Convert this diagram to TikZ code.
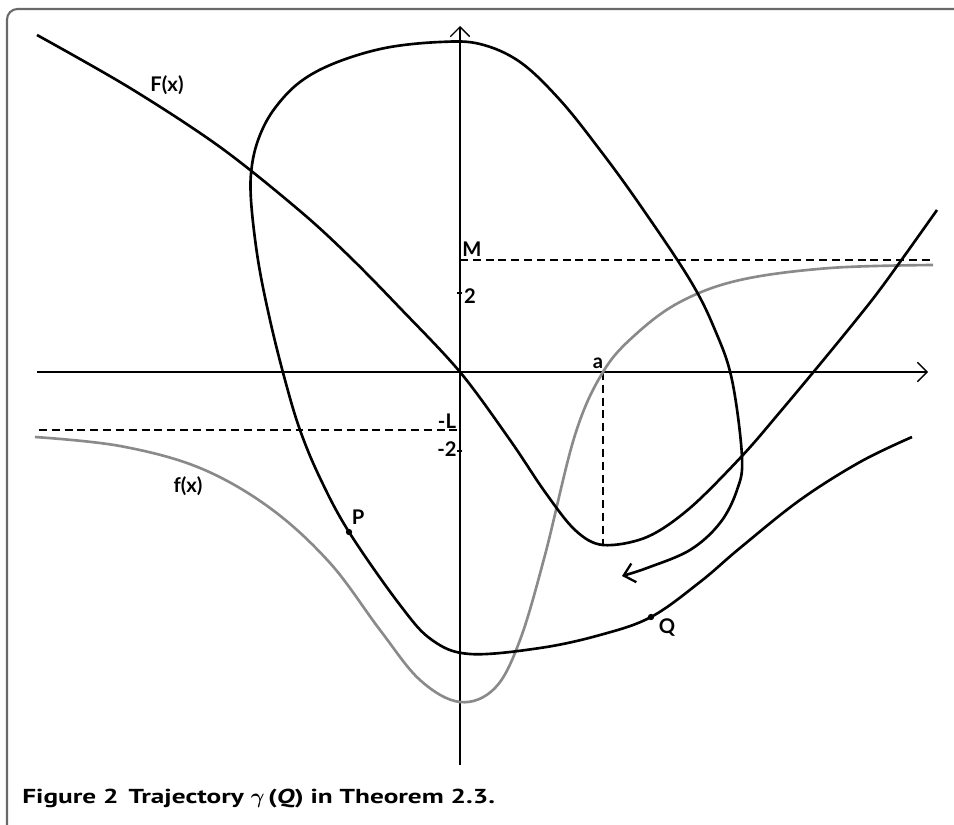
\documentclass[tikz,border=0pt]{standalone}
\usepackage{fontspec}
\setmainfont{Lato}
\newfontfamily\capfont[FakeStretch=1.35]{PT Sans}
\usetikzlibrary{arrows.meta}
\definecolor{curvegray}{RGB}{138,138,138}
\definecolor{framegray}{RGB}{105,105,105}
\newcommand{\graphF}{plot[smooth,tension=0.55] coordinates {(37,35) (130,88) (220,147) (300,211) (350,257) (400,308) (460,372) (510,440) (545,492) (575,530) (603,545) (647,537) (690,508) (742,456) (780,412) (830,352) (872,300) (900,262) (937,210)}}
\newcommand{\graphf}{plot[smooth,tension=0.6] coordinates {(35,437) (120,446) (200,468) (270,508) (330,563) (380,630) (420,680) (460,702) (495,688) (520,640) (545,555) (575,435) (603,372) (635,335) (680,302) (740,280) (830,268) (933,265)}}
\newcommand{\orbit}{plot[smooth,tension=0.6] coordinates {(912,437) (860,462) (800,500) (740,548) (700,582) (651,617) (600,635) (540,648) (470,654) (432,640) (400,605) (349,532) (320,478) (300,430) (285,380) (270,320) (258,260) (251,200) (252,165) (260,135) (275,108) (300,82) (335,63) (385,48) (440,42) (480,44) (520,62) (560,100) (600,150) (640,205) (690,280) (715,330) (732,380) (742,457) (737,490) (720,523) (690,550) (647,568) (622,576)}}

\begin{document}
\begin{tikzpicture}[x=0.02cm,y=-0.02cm,
    curve/.style={line width=1.5pt,line join=round},
    axis/.style={line width=0.75pt,-{Straight Barb[length=5.5pt,width=11pt,line width=0.8pt]}},
    level/.style={line width=1pt,dash pattern=on 4.5pt off 2.8pt},
    lab/.style={font=\bfseries\fontsize{11.5}{13}\selectfont,inner sep=0pt}]
    \useasboundingbox (0,0) rectangle (954,825);
    % frame of the figure
    \draw[framegray,line width=1.2pt,rounded corners=6pt] (954,9) -- (7,9) -- (7,825);
    % axes
    \coordinate (O) at (460,372);
    \coordinate (a) at (603,372);
    \coordinate (amin) at (603,545);
    \draw[axis] (37,372) -- (928,372);
    \draw[axis] (460,765) -- (460,26);
    \draw[line width=0.75pt] (457,293) -- (462,293);
    \draw[line width=0.75pt] (457,451) -- (462,451);
    % the levels M, -L and the point a
    \draw[level] (O |- 0,260) -- (932,260);
    \draw[level] (39,430) -- (O |- 0,430);
    \draw[level] (a) -- (amin);
    % f and F
    \draw[curvegray,curve] \graphf;
    \draw[curve] \graphF;
    % the trajectory through P and Q
    \draw[curve,-{Straight Barb[length=6pt,width=11pt,line width=1.3pt]}] \orbit;
    \foreach \p/\n in {(349,532)/P,(651,617)/Q}
        \fill \p circle (1.8pt) coordinate (\n);
    % labels
    \node[lab] (labF) at (167,85) {F(x)};
    \node[lab] (labf) at (188,486) {f(x)};
    \node[lab] (labM) at (472,249) {M};
    \node[lab] (lab2) at (470,296) {2};
    \node[lab] (labL) at (447,421) {-L};
    \node[lab] (labm2) at (447,449) {-2};
    \node[lab] (laba) at (598,363) {a};
    \node[lab] (labP) at (358,517) {P};
    \node[lab] (labQ) at (667,628) {Q};
    \node[anchor=base west,inner sep=0pt,font=\capfont\bfseries\boldmath\fontsize{11.5}{13}\selectfont] (caption) at (22,803)
        {Figure 2\enspace Trajectory $\gamma$\,(\textit{Q}) in Theorem 2.3.};
\end{tikzpicture}
\end{document}
